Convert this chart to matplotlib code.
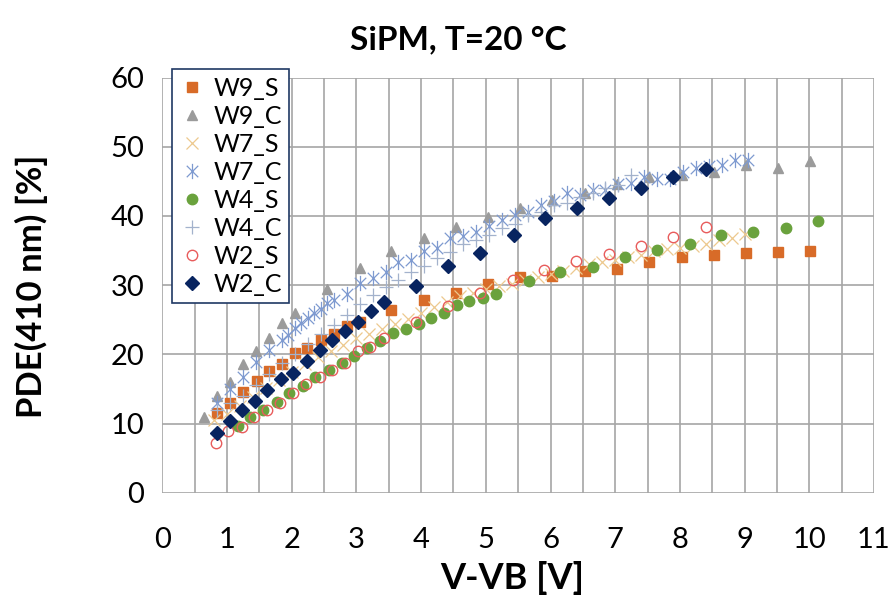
import matplotlib
matplotlib.use("Agg")
import matplotlib.pyplot as plt
from matplotlib.path import Path
from matplotlib.ticker import MultipleLocator

plt.rcParams['font.family'] = ['Lato', 'DejaVu Sans']

# ---------------- data ----------------
w9s_x = [0.85, 1.05, 1.25, 1.46, 1.65, 1.85, 2.05, 2.24, 2.45, 2.65, 2.85, 3.05, 3.53,
         4.04, 4.54, 5.04, 5.53, 6.02, 6.53, 7.03, 7.53, 8.03, 8.52, 9.02, 9.52, 10.01]
w9s_y = [11.5, 13.0, 14.6, 16.1, 17.6, 18.6, 20.2, 20.9, 22.1, 23.0, 24.1, 24.7, 26.4,
         27.8, 28.8, 30.1, 31.2, 31.3, 32.1, 32.3, 33.3, 34.0, 34.3, 34.6, 34.8, 35.0]

w9c_x = [0.65, 0.85, 1.05, 1.25, 1.45, 1.65, 1.85, 2.05, 2.54, 3.05, 3.53, 4.04, 4.54,
         5.04, 5.53, 6.03, 6.53, 7.03, 7.53, 8.03, 8.52, 9.02, 9.52, 10.01]
w9c_y = [10.9, 14.0, 16.0, 18.6, 20.5, 22.4, 24.5, 26.0, 29.4, 32.5, 35.0, 36.8, 38.4,
         39.8, 41.2, 42.3, 43.3, 44.6, 45.6, 45.9, 46.4, 47.4, 46.9, 48.0]

w7s_x = [0.8, 1.0, 1.2, 1.4, 1.6, 1.8, 2.0, 2.2, 2.4, 2.6, 2.8, 3.0, 3.2, 3.4, 3.6, 3.8,
         4.0, 4.2, 4.4, 4.6, 4.8, 5.0, 5.2, 5.4, 5.6, 5.8, 6.0, 6.2, 6.4, 6.6, 6.8, 7.0,
         7.2, 7.4, 7.6, 7.8, 8.0, 8.2, 8.4, 8.6, 8.8, 9.0]
w7s_y = [10.5, 11.4, 12.6, 13.9, 15.1, 16.3, 17.5, 18.6, 19.6, 20.5, 21.4, 22.3, 23.0,
         23.7, 24.4, 25.1, 25.9, 26.8, 27.6, 28.4, 28.9, 29.4, 29.9, 30.2, 30.7, 31.2,
         31.6, 32.0, 32.5, 33.0, 33.3, 33.7, 34.0, 34.4, 34.9, 35.2, 35.4, 35.6, 35.9,
         36.5, 36.8, 37.4]

w7c_x = [0.85, 1.05, 1.25, 1.45, 1.65, 1.85, 1.95, 2.05, 2.15, 2.25, 2.35, 2.45, 2.55,
         2.65, 2.85, 3.05, 3.25, 3.45, 3.65, 3.85, 4.05, 4.25, 4.45, 4.65, 4.85, 5.05,
         5.25, 5.45, 5.65, 5.85, 6.05, 6.25, 6.45, 6.65, 6.85, 7.05, 7.25, 7.45, 7.65,
         7.85, 8.05, 8.25, 8.45, 8.65, 8.85, 9.05]
w7c_y = [12.9, 15.0, 16.7, 18.9, 20.6, 22.1, 22.8, 23.8, 24.5, 25.2, 25.9, 26.6, 27.4,
         27.9, 28.7, 30.3, 31.0, 31.9, 33.4, 33.7, 35.0, 35.3, 36.8, 37.1, 37.7, 38.5,
         39.4, 40.1, 40.6, 41.6, 42.2, 43.3, 43.0, 43.7, 43.8, 44.6, 44.7, 45.6, 45.4,
         45.3, 46.4, 46.9, 47.2, 47.4, 48.1, 48.1]

w4s_x = [1.17, 1.36, 1.56, 1.77, 1.96, 2.17, 2.36, 2.57, 2.77, 2.97, 3.16, 3.36, 3.57,
         3.77, 3.96, 4.16, 4.36, 4.55, 4.74, 4.96, 5.16, 5.66, 6.15, 6.65, 7.15, 7.64,
         8.15, 8.63, 9.13, 9.64, 10.13]
w4s_y = [9.6, 10.9, 11.9, 13.1, 14.4, 15.4, 16.7, 17.7, 18.8, 19.7, 20.9, 21.95, 23.1,
         23.6, 24.4, 25.3, 26.0, 27.1, 27.7, 28.1, 28.7, 30.6, 31.9, 32.6, 34.0, 35.1,
         36.0, 37.2, 37.7, 38.3, 39.3]

w4c_x = [0.85, 1.05, 1.25, 1.45, 1.65, 1.85, 2.05, 2.25, 2.45, 2.65, 2.85, 3.05, 3.25,
         3.45, 3.65, 3.85, 4.05, 4.25, 4.45, 4.65, 4.85, 5.05, 5.25, 5.45, 5.65, 5.85,
         6.05, 6.25, 6.45, 6.65, 6.85, 7.05, 7.25]
w4c_y = [12.0, 13.0, 14.0, 15.6, 17.2, 18.7, 20.1, 21.5, 23.0, 24.2, 25.7, 27.3, 28.6,
         29.7, 30.8, 31.9, 32.7, 33.9, 34.8, 36.0, 36.5, 37.2, 38.3, 38.8, 40.1, 40.6,
         41.6, 41.9, 42.7, 43.3, 44.0, 44.5, 45.9]

w2s_x = [0.83, 1.02, 1.23, 1.42, 1.62, 1.82, 2.02, 2.22, 2.43, 2.62, 2.82, 3.02, 3.21,
         3.43, 3.92, 4.42, 4.91, 5.42, 5.90, 6.40, 6.90, 7.40, 7.90, 8.40]
w2s_y = [7.2, 8.9, 9.5, 10.9, 12.0, 13.0, 14.4, 15.7, 16.7, 17.7, 18.8, 20.5, 21.1,
         22.3, 24.7, 27.0, 28.9, 30.7, 32.2, 33.5, 34.5, 35.6, 37.0, 38.4]

w2c_x = [0.84, 1.04, 1.23, 1.43, 1.62, 1.83, 2.02, 2.23, 2.43, 2.63, 2.82, 3.02, 3.22,
         3.43, 3.92, 4.42, 4.91, 5.43, 5.91, 6.41, 6.90, 7.40, 7.90, 8.40]
w2c_y = [8.7, 10.3, 11.9, 13.3, 14.8, 16.4, 17.3, 19.1, 20.6, 22.1, 23.4, 24.7, 26.2,
         27.5, 29.9, 32.8, 34.7, 37.3, 39.7, 41.1, 42.6, 44.0, 45.6, 46.8]

labels = ["W9_S", "W9_C", "W7_S", "W7_C", "W4_S", "W4_C", "W2_S", "W2_C"]
x_ticks = list(range(0, 12))
y_ticks = list(range(0, 61, 10))

# Excel-like asterisk marker (x plus vertical bar)
star_path = Path([(-0.75, -0.75), (0.75, 0.75), (-0.75, 0.75), (0.75, -0.75), (0, -1), (0, 1)],
                 [Path.MOVETO, Path.LINETO, Path.MOVETO, Path.LINETO, Path.MOVETO, Path.LINETO])

fig = plt.figure(figsize=(8.91, 6.0), dpi=100)
ax = fig.add_axes([0.1822, 0.1788, 0.7987, 0.692])

kw = dict(linestyle='none')
h = []
h += ax.plot(w9s_x, w9s_y, marker='s', ms=7.5, color='#D86B28', mec='#D86B28', **kw)
h += ax.plot(w9c_x, w9c_y, marker='^', ms=7.5, color='#9B9B9B', mec='#9B9B9B', **kw)
h += ax.plot(w7s_x, w7s_y, marker='x', ms=9, mew=0.9, color='#EDC98E', **kw)
h += ax.plot(w7c_x, w7c_y, marker=star_path, ms=11, mew=0.9, mfc='none', color='#7E9AD0', **kw)
h += ax.plot(w4s_x, w4s_y, marker='o', ms=7.5, color='#6AA23D', mec='#6AA23D', **kw)
h += ax.plot(w4c_x, w4c_y, marker='+', ms=10, mew=0.9, color='#A3B2CC', **kw)
h += ax.plot(w2s_x, w2s_y, marker='o', ms=7.5, mfc='none', mew=1.0, color='#E85C5C', **kw)
h += ax.plot(w2c_x, w2c_y, marker='D', ms=7.5, color='#082460', mec='#082460', **kw)

ax.set_xlim(0, 11)
ax.set_ylim(0, 60)
ax.set_xticks(x_ticks)
ax.set_yticks(y_ticks)
ax.xaxis.set_minor_locator(MultipleLocator(0.5))
ax.grid(True, which='major', axis='both', color='#A6A6A6', lw=1.2)
ax.grid(True, which='minor', axis='x', color='#A6A6A6', lw=1.2)
ax.set_axisbelow(True)
for s in ax.spines.values():
    s.set_visible(False)
ax.tick_params(which='both', length=0)
ax.tick_params(axis='x', labelsize=21, pad=25)
ax.tick_params(axis='y', labelsize=21, pad=13)

fig.text(512 / 891, 1 - 578 / 600, "V-VB [V]", ha='center', va='center',
         fontsize=26, fontweight='bold')
fig.text(31 / 891, 1 - 286 / 600, "PDE(410 nm) [%]", ha='center', va='center',
         rotation=90, fontsize=25, fontweight='bold')
fig.text(458 / 891, 1 - 40 / 600, "SiPM, T=20 °C", ha='center', va='center',
         fontsize=24, fontweight='bold')

leg = fig.legend(h, labels, loc='upper left', bbox_to_anchor=(172 / 891, 1 - 69 / 600),
                 fontsize=18, frameon=True, fancybox=False, framealpha=1,
                 handlelength=1.0, handletextpad=0.35, labelspacing=0.2,
                 borderpad=0.3, borderaxespad=0)
leg.get_frame().set_edgecolor('#1F3864')
leg.get_frame().set_linewidth(1.2)

fig.savefig("out.png", dpi=100)
